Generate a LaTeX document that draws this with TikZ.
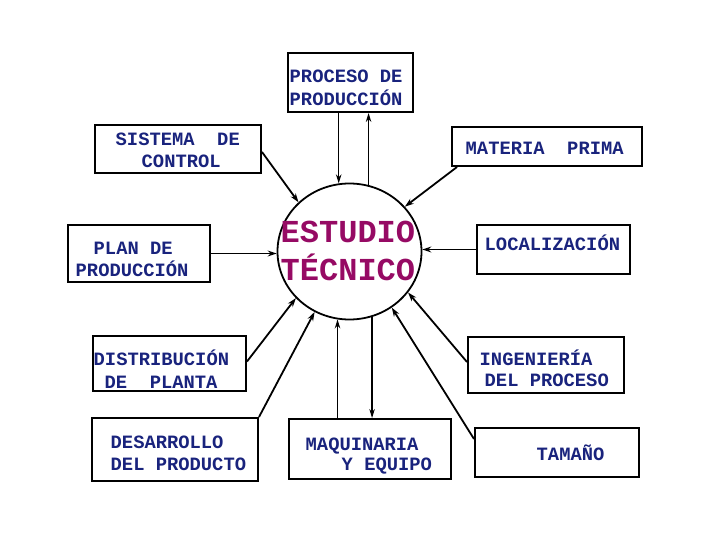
\documentclass[tikz,border=0pt]{standalone}
\usepackage{fontspec}
\newfontfamily\monofam{Liberation Mono}
\usetikzlibrary{arrows.meta,shapes.geometric}
\definecolor{navy}{RGB}{25,35,125}
\definecolor{plum}{RGB}{150,10,100}
\begin{document}
\begin{tikzpicture}[x=1pt,y=-1pt,
  box/.style={draw,line width=2pt,inner sep=0pt,rectangle},
  lbl/.style={inner sep=0pt,anchor=base west,text=navy,font=\monofam\bfseries\fontsize{18.8}{23}\selectfont},
  big/.style={inner sep=0pt,anchor=base west,text=plum,font=\monofam\bfseries\fontsize{32}{39}\selectfont},
  arr/.style={line width=1.8pt,-{Stealth[length=9pt,width=6pt]}},
  thinarr/.style={line width=1.2pt,-{Stealth[length=9pt,width=5.5pt]}}]
\useasboundingbox[fill=white] (0,0) rectangle (720,540);

% boxes
\node[box,minimum width=125pt,minimum height=59pt] (proc) at (350.5,82.5) {};
\node[box,minimum width=166pt,minimum height=48pt] (sist) at (178,149) {};
\node[box,minimum width=190pt,minimum height=39pt] (mat) at (547,146.5) {};
\node[box,minimum width=142pt,minimum height=57pt] (plan) at (139,253.5) {};
\node[box,minimum width=153pt,minimum height=49pt] (loc) at (553.5,249.5) {};
\node[box,minimum width=153pt,minimum height=55pt] (dist) at (169.5,363.5) {};
\node[box,minimum width=166pt,minimum height=63pt] (des) at (175,449.5) {};
\node[box,minimum width=162pt,minimum height=60pt] (maq) at (370,449) {};
\node[box,minimum width=156pt,minimum height=56pt] (ing) at (546,365) {};
\node[box,minimum width=164pt,minimum height=49pt] (tam) at (557,452.5) {};

% central ellipse
\node[draw,ellipse,line width=1.8pt,inner sep=0pt,minimum width=144pt,minimum height=136pt] (c) at (349.5,251.5) {};

% labels
\node[lbl] (t1a) at (289.5,82.5) {PROCESO DE};
\node[lbl] (t1b) at (289.5,105.5) {PRODUCCIÓN};
\node[lbl] (t2a) at (115.5,146) {SISTEMA\ \ DE};
\node[lbl] (t2b) at (141.5,167.3) {CONTROL};
\node[lbl] (t3) at (465.5,154.3) {MATERIA\ \ PRIMA};
\node[lbl] (t4a) at (93.5,254.3) {PLAN DE};
\node[lbl] (t4b) at (75.5,276) {PRODUCCIÓN};
\node[lbl] (t5) at (484.5,250) {LOCALIZACIÓN};
\node[lbl] (t6a) at (93.5,365) {DISTRIBUCIÓN};
\node[lbl] (t6b) at (104.5,388.3) {DE\ \ PLANTA};
\node[lbl] (t7a) at (110.5,448.3) {DESARROLLO};
\node[lbl] (t7b) at (110.5,470) {DEL PRODUCTO};
\node[lbl] (t8a) at (305.5,450) {MAQUINARIA};
\node[lbl] (t8b) at (341.5,470.7) {Y EQUIPO};
\node[lbl] (t9a) at (479.5,365) {INGENIERÍA};
\node[lbl] (t9b) at (484.5,386.7) {DEL PROCESO};
\node[lbl] (t10) at (536.5,460) {TAMAÑO};
\node[big] (ca) at (280.5,242) {ESTUDIO};
\node[big] (cb) at (280.5,280) {TÉCNICO};

% connectors
\draw[thinarr] (c.99.5 |- proc.south) -- (c.99.5);
\draw[thinarr] (c.74.5) -- (c.74.5 |- proc.south);
\draw[arr] ([yshift=-3pt]sist.east) -- (c.136);
\draw[arr] ([xshift=6pt]mat.south west) -- (c.39);
\draw[arr] (plan.east) -- (plan.east -| c.west);
\draw[arr] (loc.west) -- (loc.west -| c.east);
\draw[arr] ([yshift=2pt]dist.east) -- (c.221.7);
\draw[arr] (des.north east) -- (c.240.7);
\draw[thinarr] (c.260.5 |- maq.north) -- (c.260.5);
\draw[thinarr] (c.289.5) -- (c.289.5 |- maq.north);
\draw[arr] ([yshift=3pt]ing.west) -- (c.325.2);
\draw[arr] ([yshift=-12pt]tam.north west) -- (c.307);
\end{tikzpicture}
\end{document}
